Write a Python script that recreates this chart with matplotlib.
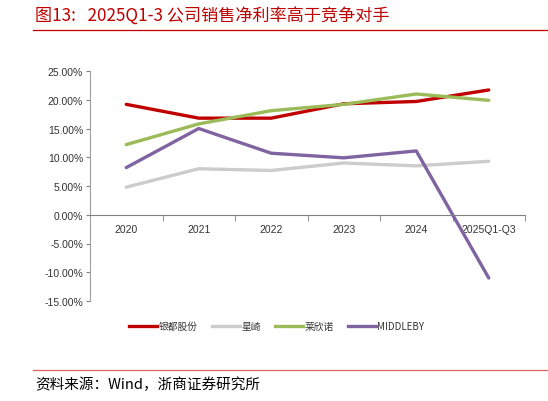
import matplotlib
matplotlib.use("Agg")
import matplotlib.pyplot as plt
from matplotlib.lines import Line2D

plt.rcParams['font.family'] = ['Noto Sans CJK SC', 'DejaVu Sans']

# data (net margin, %)
years = ["2020", "2021", "2022", "2023", "2024", "2025Q1-Q3"]
yindu = [19.2, 16.8, 16.8, 19.3, 19.7, 21.7]
xingqi = [4.8, 8.0, 7.7, 9.0, 8.5, 9.3]
laixinnuo = [12.2, 15.8, 18.1, 19.2, 21.0, 19.9]
middleby = [8.2, 15.0, 10.7, 9.9, 11.1, -11.0]
names = ["银都股份", "星崎", "莱欣诺", "MIDDLEBY"]
colors = ["#C00000", "#CCCCCC", "#9BBB59", "#8064A2"]
yticks = [25, 20, 15, 10, 5, 0, -5, -10, -15]

fig = plt.figure(figsize=(5.48, 4.02), dpi=100)
ax = fig.add_axes([90/548, 1 - 302/402, (525 - 90)/548, (302 - 72)/402])

# spine position first (it resets the ticks)
for s in ['top', 'right']:
    ax.spines[s].set_visible(False)
ax.spines['bottom'].set_position(('data', 0))
ax.spines['bottom'].set_color("#808080")
ax.spines['left'].set_color("#A0A0A0")

x = list(range(len(years)))
for vals, c in zip([yindu, xingqi, laixinnuo, middleby], colors):
    ax.plot(x, vals, color=c, lw=2.4, solid_capstyle='round')

arial = ['Liberation Sans', 'DejaVu Sans']
ax.set_xlim(-0.5, len(years) - 0.5)
ax.set_ylim(-15, 25)
ax.set_yticks(yticks)
ax.set_yticklabels(["%.2f%%" % v for v in yticks], fontsize=7.5, color="#333333", family=arial)
ax.set_xticks(x)
ax.set_xticklabels(years, fontsize=7.5, color="#333333", family=arial)
ax.set_xticks([i - 0.5 for i in range(len(years) + 1)], minor=True)
ax.tick_params(axis='x', which='major', length=0, pad=7)
ax.tick_params(axis='x', which='minor', length=4, direction='out', color="#808080")
ax.tick_params(axis='y', length=3, color="#808080", pad=2)

handles = [Line2D([], [], color=c, lw=2.4) for c in colors]
leg = fig.legend(handles, names, loc='center', bbox_to_anchor=(0.505, 1 - 327/402), ncol=4,
                 frameon=False, fontsize=7, handlelength=2.9, handletextpad=0.1,
                 columnspacing=1.5)
for t in leg.get_texts():
    t.set_color("#333333")

# title and footer
fig.text(35/548, 1 - 17/402, "图13:   2025Q1-3 公司销售净利率高于竞争对手", fontsize=12.3,
         color="#C00000", va='center', ha='left')
fig.add_artist(Line2D([33/548, 1], [1 - 31/402, 1 - 31/402], color="#C00000", lw=0.9))
fig.add_artist(Line2D([33/548, 1], [1 - 371/402, 1 - 371/402], color="#E06060", lw=0.9))
fig.text(35/548, 1 - 385/402, "资料来源：Wind，浙商证券研究所", fontsize=10.5,
         color="#000000", va='center', ha='left')

fig.savefig("out.png", dpi=100)
